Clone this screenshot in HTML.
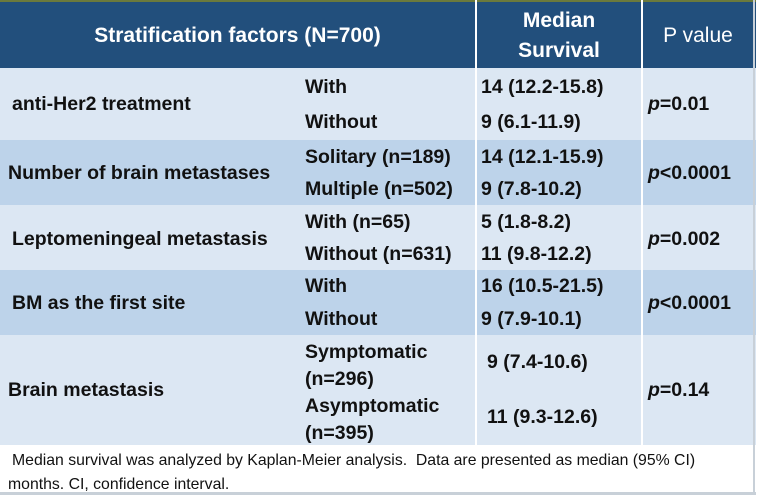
<!DOCTYPE html>
<html><head><style>
body{margin:0;width:760px;height:495px;background:#fff;position:relative;overflow:hidden;font-family:"Liberation Sans",Arial,sans-serif;}
.a{position:absolute;}
.t{position:absolute;font-weight:bold;font-size:19.5px;color:#111;white-space:nowrap;line-height:20px;}
.h{position:absolute;color:#fff;font-size:21px;font-weight:bold;white-space:nowrap;line-height:30px;text-align:center;}
</style></head><body>
<div class="a" style="left:0;top:0;width:756px;height:2px;background:#6b7a3c"></div>
<div class="a" style="left:0;top:2px;width:756px;height:66px;background:#224f7c"></div>
<div class="a" style="left:0;top:68px;width:756px;height:72px;background:#dce7f3"></div>
<div class="a" style="left:0;top:140px;width:756px;height:65px;background:#bdd3ea"></div>
<div class="a" style="left:0;top:205px;width:756px;height:65px;background:#dce7f3"></div>
<div class="a" style="left:0;top:270px;width:756px;height:65px;background:#bdd3ea"></div>
<div class="a" style="left:0;top:335px;width:756px;height:110px;background:#dce7f3"></div>
<div class="a" style="left:475px;top:0;width:2px;height:445px;background:#fff"></div>
<div class="a" style="left:641px;top:0;width:2px;height:445px;background:#fff"></div>
<div class="a" style="left:753px;top:0;width:2px;height:495px;background:#c8d0d8"></div>
<div class="a" style="left:0;top:492px;width:756px;height:3px;background:#c8d0d8"></div>
<div class="h" style="left:0;width:475px;top:21px">Stratification factors (N=700)</div>
<div class="h" style="left:477px;width:164px;top:6px">Median<br>Survival</div>
<div class="h" style="left:643px;width:110px;top:21px;font-weight:normal">P value</div>

<div class="t" style="left:12px;top:94px">anti-Her2 treatment</div>
<div class="t" style="left:305px;top:77px">With</div>
<div class="t" style="left:305px;top:112px">Without</div>
<div class="t" style="left:481px;top:77px">14 (12.2-15.8)</div>
<div class="t" style="left:481px;top:112px">9 (6.1-11.9)</div>
<div class="t" style="left:648px;top:94px"><i>p</i>=0.01</div>

<div class="t" style="left:8px;top:163px">Number of brain metastases</div>
<div class="t" style="left:305px;top:147px">Solitary (n=189)</div>
<div class="t" style="left:305px;top:179px">Multiple (n=502)</div>
<div class="t" style="left:481px;top:147px">14 (12.1-15.9)</div>
<div class="t" style="left:481px;top:179px">9 (7.8-10.2)</div>
<div class="t" style="left:648px;top:163px"><i>p</i>&lt;0.0001</div>

<div class="t" style="left:12px;top:229px">Leptomeningeal metastasis</div>
<div class="t" style="left:305px;top:212px">With (n=65)</div>
<div class="t" style="left:305px;top:244px">Without (n=631)</div>
<div class="t" style="left:481px;top:212px">5 (1.8-8.2)</div>
<div class="t" style="left:481px;top:244px">11 (9.8-12.2)</div>
<div class="t" style="left:648px;top:229px"><i>p</i>=0.002</div>

<div class="t" style="left:12px;top:293px">BM as the first site</div>
<div class="t" style="left:305px;top:276px">With</div>
<div class="t" style="left:305px;top:309px">Without</div>
<div class="t" style="left:481px;top:276px">16 (10.5-21.5)</div>
<div class="t" style="left:481px;top:309px">9 (7.9-10.1)</div>
<div class="t" style="left:648px;top:293px"><i>p</i>&lt;0.0001</div>

<div class="t" style="left:8px;top:380px">Brain metastasis</div>
<div class="t" style="left:305px;top:339px;line-height:27px">Symptomatic<br>(n=296)<br>Asymptomatic<br>(n=395)</div>
<div class="t" style="left:487px;top:352px">9 (7.4-10.6)</div>
<div class="t" style="left:487px;top:407px">11 (9.3-12.6)</div>
<div class="t" style="left:648px;top:380px"><i>p</i>=0.14</div>

<div class="a" style="left:12px;top:449px;font-size:15.8px;line-height:24px;color:#111;width:740px;white-space:nowrap">Median survival was analyzed by Kaplan-Meier analysis.&nbsp; Data are presented as median (95% CI)<br><span style="margin-left:-4px">months. CI, confidence interval.</span></div>
</body></html>
